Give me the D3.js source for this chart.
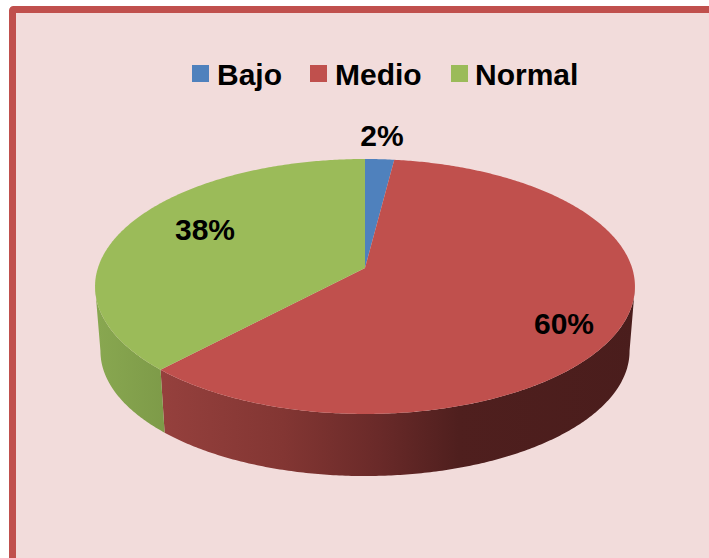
<!DOCTYPE html>
<html>
<head>
<meta charset="utf-8">
<script src="https://cdn.jsdelivr.net/npm/d3@7"></script>
<style>
html,body{margin:0;padding:0;background:#fff;overflow:hidden}
svg{display:block}
text{font-family:"Liberation Sans",Arial,sans-serif;font-weight:bold;fill:#000}
</style>
</head>
<body>
<svg id="chart" width="709" height="558"></svg>
<script>
const categories = ["Bajo", "Medio", "Normal"];
const percents = [2, 60, 38];
const topColors = ["#4f81bd", "#c0504d", "#9bbb59"];
const legendSwatchX = [192, 310, 451];
const legendTextX = [217, 335, 475];
const labelAnchors = [[382, 146], [564, 334], [205, 240]];

const W = 709, H = 558;
const svg = d3.select("#chart");

// Chart panel; its right and bottom edges run past the page
svg.append("rect")
  .attr("x", 12.5).attr("y", 9.5)
  .attr("width", W + 40).attr("height", H + 40)
  .attr("rx", 1)
  .attr("fill", "#f2dcdb")
  .attr("stroke", "#c0504d")
  .attr("stroke-width", 7);

// Perspective view of a tilted disc, so the hub sits above the ellipse middle
const cx = 365, hubY = 268, spanX = 267.1, spanY = 124.8, tilt = -0.145;
const depth = 65, lowerScale = 0.98;
function project(angle, scale, drop) {
  const u = Math.sin(angle), v = -Math.cos(angle), w = 1 + tilt * v;
  return [cx + scale * spanX * u / w, hubY + drop + scale * spanY * v / w];
}
function rim(a0, a1, scale, drop) {
  const n = Math.max(2, Math.ceil(Math.abs(a1 - a0) / 0.01));
  return d3.range(n + 1).map(i => project(a0 + (a1 - a0) * i / n, scale, drop));
}

const pie = d3.pie().sort(null).value(d => d).startAngle(0).endAngle(2 * Math.PI);
const slices = pie(percents);
const line = d3.line();
const color = d3.scaleOrdinal().domain(categories).range(topColors);

// Angles where the top rim turns back: only the span between them shows a wall
const frontStart = Math.acos(tilt), frontEnd = 2 * Math.PI - frontStart;

// Wall shading runs left to right across the front of the disc
const defs = svg.append("defs");
function wallGradient(id, x1, x2, stops) {
  const g = defs.append("linearGradient").attr("id", id)
    .attr("gradientUnits", "userSpaceOnUse")
    .attr("x1", x1).attr("x2", x2).attr("y1", 0).attr("y2", 0);
  stops.forEach(s => g.append("stop").attr("offset", s[0]).attr("stop-color", s[1]));
}
wallGradient("wall-Medio", 163, 640, [[0, "#95403d"], [0.25, "#833633"], [0.45, "#6a2a29"], [0.62, "#4f1f1e"], [1, "#4a1d1c"]]);
wallGradient("wall-Normal", 98, 168, [[0, "#88a750"], [1, "#7d9a48"]]);

// Outer walls first, then the top faces over them
const frontSlices = slices
  .map((s, i) => ({
    name: categories[i],
    a0: Math.max(s.startAngle, frontStart),
    a1: Math.min(s.endAngle, frontEnd)
  }))
  .filter(s => s.a1 > s.a0);

svg.append("g").selectAll("path")
  .data(frontSlices)
  .join("path")
  .attr("d", s => line(rim(s.a0, s.a1, 1, 0)
      .concat(rim(s.a1, s.a0, lowerScale, depth))) + "Z")
  .attr("fill", s => `url(#wall-${s.name})`);

svg.append("g").selectAll("path")
  .data(slices)
  .join("path")
  .attr("d", s => line([[cx, hubY]].concat(rim(s.startAngle, s.endAngle, 1, 0))) + "Z")
  .attr("fill", (s, i) => color(categories[i]));

// Legend
const legend = svg.append("g");
legend.selectAll("rect")
  .data(categories)
  .join("rect")
  .attr("x", (d, i) => legendSwatchX[i])
  .attr("y", 65)
  .attr("width", 17)
  .attr("height", 17)
  .attr("fill", d => color(d));
legend.selectAll("text")
  .data(categories)
  .join("text")
  .attr("x", (d, i) => legendTextX[i])
  .attr("y", 84.5)
  .attr("font-size", 30)
  .text(d => d);

// Percentage labels
svg.append("g").selectAll("text")
  .data(percents)
  .join("text")
  .attr("x", (d, i) => labelAnchors[i][0])
  .attr("y", (d, i) => labelAnchors[i][1])
  .attr("text-anchor", "middle")
  .attr("font-size", 30)
  .text(d => d + "%");
</script>
</body>
</html>
